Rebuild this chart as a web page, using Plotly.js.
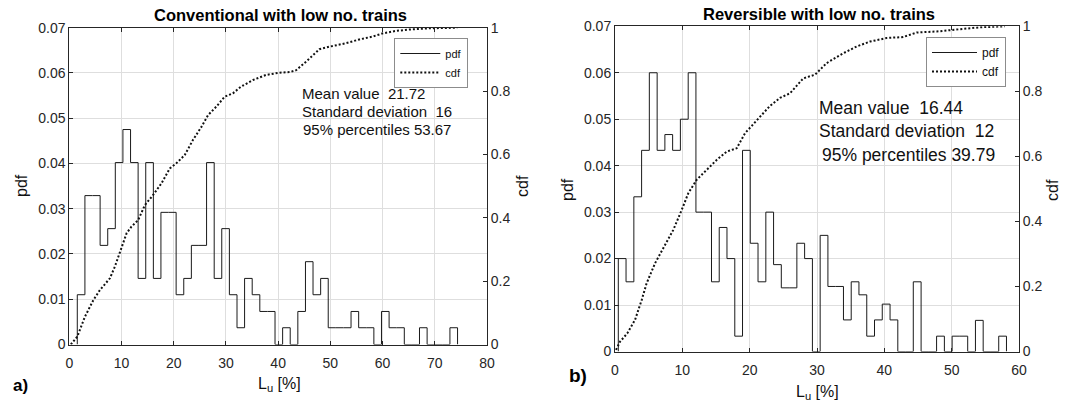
<!DOCTYPE html>
<html>
<head>
<meta charset="utf-8">
<script src="https://cdn.plot.ly/plotly-3.0.1.min.js"></script>
<style>
html,body{margin:0;padding:0;background:#fff;}
#chart{width:1069px;height:403px;}
</style>
</head>
<body>
<div id="chart"></div>
<script>
// ---------- data: (a) Conventional with low no. trains ----------
const convBinEdges = [1.53,2.99,4.44,5.90,7.36,8.81,10.27,11.73,13.18,14.64,16.10,17.55,19.01,20.46,21.92,23.38,24.83,26.29,27.75,29.20,30.66,32.12,33.57,35.03,36.49,37.94,39.40,40.86,42.31,43.77,45.23,46.68,48.14,49.59,51.05,52.51,53.96,55.42,56.88,58.33,59.79,61.25,62.70,64.16,65.62,67.07,68.53,69.99,71.44,72.90,74.36];
const convPdf = [0.0110,0.0329,0.0329,0.0219,0.0256,0.0402,0.0475,0.0402,0.0146,0.0402,0.0146,0.0292,0.0292,0.0110,0.0146,0.0219,0.0219,0.0402,0.0146,0.0256,0.0110,0.0037,0.0146,0.0110,0.0073,0.0073,0,0.0037,0,0.0073,0.0183,0.0110,0.0146,0.0037,0.0037,0.0037,0.0073,0.0037,0.0037,0,0.0073,0.0037,0.0037,0,0,0.0037,0,0,0,0.0037];
const convCdfX = [0.3,1.53,3.0,4.6,5.87,7.78,8.73,10.0,10.97,11.9,13.2,14.47,16.06,17.66,19.25,20.5,22.1,23.7,25.3,26.57,28.17,29.75,31.34,32.9,35.2,37.7,40.3,42.3,43.45,45.36,47.9,49.8,53.0,55.55,58.1,60.0,62.6,65.7,68.9,74.3];
const convCdfY = [0,0.025,0.088,0.14,0.172,0.209,0.246,0.309,0.351,0.372,0.393,0.44,0.472,0.509,0.556,0.572,0.598,0.646,0.687,0.724,0.751,0.782,0.793,0.814,0.835,0.851,0.858,0.86,0.866,0.893,0.932,0.94,0.951,0.963,0.972,0.982,0.99,0.995,0.998,1.0];
const convStats = ["Mean value  21.72", "Standard deviation  16", "95% percentiles 53.67"];

// ---------- data: (b) Reversible with low no. trains ----------
const revBinEdges = [0.49,1.64,2.80,3.95,5.10,6.26,7.41,8.56,9.71,10.87,12.02,13.17,14.33,15.48,16.63,17.79,18.94,20.09,21.24,22.40,23.55,24.70,25.86,27.01,28.16,29.32,30.47,31.62,32.77,33.93,35.08,36.23,37.39,38.54,39.69,40.85,42.00,43.15,44.30,45.46,46.61,47.76,48.92,50.07,51.22,52.38,53.53,54.68,55.83,56.99,58.14];
const revPdf = [0.0200,0.0150,0.0333,0.0433,0.0600,0.0433,0.0467,0.0433,0.0500,0.0600,0.0300,0.0300,0.0150,0.0267,0.0200,0.0033,0.0433,0.0233,0.0150,0.0300,0.0187,0.0137,0.0137,0.0233,0.0200,0,0.0250,0.0140,0.0140,0.0068,0.0150,0.0122,0.0033,0.0068,0.0102,0.0068,0,0,0.0150,0,0,0.0033,0,0.0033,0.0033,0,0.0067,0,0,0.0033];
const revCdfX = [0.15,0.74,1.83,2.97,3.96,4.7,5.94,7.43,8.66,9.9,10.89,12.13,13.6,15.1,16.6,18.07,19.3,21.3,23.0,24.5,26.0,27.97,29.7,31.44,33.9,35.9,37.87,40.35,42.8,44.8,47.8,51.2,54.2,57.9];
const revCdfY = [0.005,0.03,0.056,0.097,0.158,0.21,0.271,0.328,0.374,0.435,0.487,0.528,0.558,0.589,0.615,0.625,0.671,0.718,0.755,0.78,0.794,0.84,0.851,0.887,0.917,0.938,0.953,0.964,0.967,0.981,0.984,0.991,0.997,1.0];
const revStats = ["Mean value  16.44", "Standard deviation  12", "95% percentiles 39.79"];

const pdfTicks = [0,0.01,0.02,0.03,0.04,0.05,0.06,0.07];
const cdfTicks = [0,0.2,0.4,0.6,0.8,1];
const convXTicks = [0,10,20,30,40,50,60,70,80];
const revXTicks = [0,10,20,30,40,50,60];

// ---------- helpers ----------
const W = 1069, H = 403;
const px = v => v / W;
const py = v => 1 - v / H;
function stairs(edges, vals) {
  const x = [edges[0]], y = [0];
  for (let i = 0; i < vals.length; i++) { x.push(edges[i]); y.push(vals[i]); }
  x.push(edges[edges.length - 1]); y.push(0);
  return {x, y};
}
const FONT = 'Liberation Sans, Arial, Helvetica, sans-serif';
const INK = '#262626';
const GRID = '#dedede';

const convSt = stairs(convBinEdges, convPdf);
const revSt = stairs(revBinEdges, revPdf);

const traces = [
  {x: convSt.x, y: convSt.y, xaxis: 'x', yaxis: 'y', mode: 'lines', name: 'pdf',
   line: {shape: 'hv', color: '#1a1a1a', width: 1}, legend: 'legend', hoverinfo: 'skip'},
  {x: convCdfX, y: convCdfY, xaxis: 'x', yaxis: 'y2', mode: 'lines', name: 'cdf',
   line: {color: '#111', width: 2, dash: '2px,2px'}, legend: 'legend', hoverinfo: 'skip'},
  {x: revSt.x, y: revSt.y, xaxis: 'x2', yaxis: 'y3', mode: 'lines', name: 'pdf',
   line: {shape: 'hv', color: '#1a1a1a', width: 1}, legend: 'legend2', hoverinfo: 'skip'},
  {x: revCdfX, y: revCdfY, xaxis: 'x2', yaxis: 'y4', mode: 'lines', name: 'cdf',
   line: {color: '#111', width: 2, dash: '2px,2px'}, legend: 'legend2', hoverinfo: 'skip'}
];

const common = {
  showline: true, linecolor: INK, linewidth: 1, zeroline: false,
  ticks: 'inside', ticklen: 4, tickcolor: INK, tickwidth: 1,
  tickfont: {family: FONT, size: 14, color: INK}, fixedrange: true
};

const layout = {
  width: W, height: H,
  margin: {l: 0, r: 0, t: 0, b: 0},
  paper_bgcolor: '#fff', plot_bgcolor: '#fff',
  font: {family: FONT, color: INK},
  showlegend: true,
  xaxis: Object.assign({}, common, {domain: [px(69.3), px(487)], range: [0, 80], anchor: 'y',
    tickvals: convXTicks, showgrid: true, gridcolor: GRID, mirror: 'ticks', ticklabelstandoff: 6}),
  yaxis: Object.assign({}, common, {domain: [py(344.5), py(27.7)], range: [0, 0.07], anchor: 'x',
    tickvals: pdfTicks, ticktext: pdfTicks.map(String), showgrid: true, gridcolor: GRID}),
  yaxis2: Object.assign({}, common, {domain: [py(344.5), py(27.7)], range: [0, 1], anchor: 'x',
    overlaying: 'y', side: 'right', tickvals: cdfTicks, ticktext: cdfTicks.map(String), showgrid: false}),
  xaxis2: Object.assign({}, common, {domain: [px(615), px(1019)], range: [0, 60], anchor: 'y3',
    tickvals: revXTicks, showgrid: true, gridcolor: GRID, mirror: 'ticks', ticklabelstandoff: 6}),
  yaxis3: Object.assign({}, common, {domain: [py(351.5), py(26.3)], range: [0, 0.07], anchor: 'x2',
    tickvals: pdfTicks, ticktext: pdfTicks.map(String), showgrid: true, gridcolor: GRID}),
  yaxis4: Object.assign({}, common, {domain: [py(351.5), py(26.3)], range: [0, 1], anchor: 'x2',
    overlaying: 'y3', side: 'right', tickvals: cdfTicks, ticktext: cdfTicks.map(String), showgrid: false}),
  legend: {x: px(468.3), xanchor: 'right', y: py(38), yanchor: 'top', bgcolor: '#fff',
    bordercolor: '#8c8c8c', borderwidth: 1, font: {family: FONT, size: 11, color: '#111'},
    tracegroupgap: 0, itemwidth: 40},
  legend2: {x: px(1006), xanchor: 'right', y: py(37), yanchor: 'top', bgcolor: '#fff',
    bordercolor: '#8c8c8c', borderwidth: 1, font: {family: FONT, size: 12, color: '#111'},
    tracegroupgap: 0, itemwidth: 45},
  annotations: []
};

function ann(text, x, y, opts) {
  layout.annotations.push(Object.assign({text, x: px(x), y: py(y), xref: 'paper', yref: 'paper',
    showarrow: false, xanchor: 'center', yanchor: 'middle',
    font: {family: FONT, size: 15, color: '#111'}}, opts || {}));
}
// titles
ann('<b>Conventional with low no. trains</b>', 280.4, 15, {font: {family: FONT, size: 16.5, color: '#000'}});
ann('<b>Reversible with low no. trains</b>', 818.9, 14.5, {font: {family: FONT, size: 16.5, color: '#000'}});
// axis titles
ann('pdf', 21, 186, {textangle: -90, font: {family: FONT, size: 16, color: '#111'}});
ann('cdf', 522, 186, {textangle: -90, font: {family: FONT, size: 16, color: '#111'}});
ann('pdf', 567, 190, {textangle: -90, font: {family: FONT, size: 16, color: '#111'}});
ann('cdf', 1052, 190, {textangle: -90, font: {family: FONT, size: 16, color: '#111'}});
ann('L<sub>u</sub> [%]', 279, 384, {font: {family: FONT, size: 16, color: '#111'}});
ann('L<sub>u</sub> [%]', 817, 392, {font: {family: FONT, size: 16, color: '#111'}});
// panel labels
ann('<b>a)</b>', 20, 385, {font: {family: FONT, size: 17, color: '#000'}});
ann('<b>b)</b>', 578, 375, {font: {family: FONT, size: 19, color: '#000'}});
// statistics
const convStatY = [94, 112, 130];
const convStatX = [300, 300, 301];
convStats.forEach((t, i) => ann(t, convStatX[i], convStatY[i], {xanchor: 'left', font: {family: FONT, size: 15, color: '#111'}}));
const revStatY = [108, 131, 155];
const revStatX = [817, 817, 820];
revStats.forEach((t, i) => ann(t, revStatX[i], revStatY[i], {xanchor: 'left', font: {family: FONT, size: 17.5, color: '#111'}}));

Plotly.newPlot('chart', traces, layout, {staticPlot: true, displayModeBar: false});
</script>
</body>
</html>
